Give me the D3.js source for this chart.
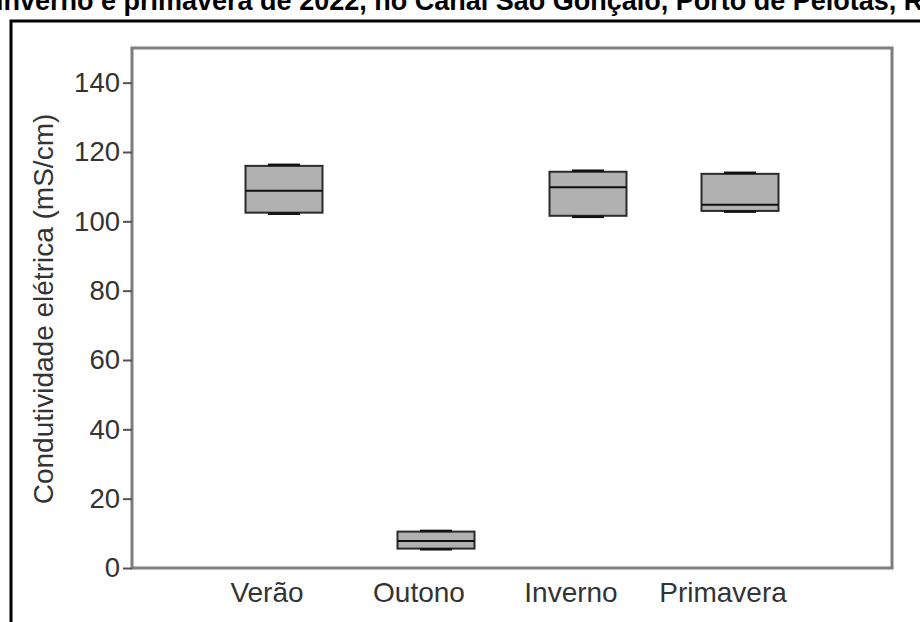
<!DOCTYPE html>
<html>
<head>
<meta charset="utf-8">
<script src="https://cdn.jsdelivr.net/npm/d3@7"></script>
<style>
  html, body { margin: 0; padding: 0; background: #fff; }
  svg { display: block; }
</style>
</head>
<body>
<svg id="chart" width="920" height="622"></svg>
<script>
// Seasonal electrical conductivity (mS/cm) — box summaries
const categories = ["Verão", "Outono", "Inverno", "Primavera"];
const whiskerMin = [102.2, 5.4, 101.3, 102.8];
const q1 = [102.5, 5.6, 101.6, 103.0];
const median = [108.8, 7.8, 109.8, 104.8];
const q3 = [116.0, 10.5, 114.3, 113.7];
const whiskerMax = [116.3, 10.7, 114.6, 114.0];
const yTicks = [0, 20, 40, 60, 80, 100, 120, 140];
const titleText = "inverno e primavera de 2022, no Canal São Gonçalo, Porto de Pelotas, RS";
const yTitle = "Condutividade elétrica (mS/cm)";

const svg = d3.select("#chart");
const font = "Arial, 'Liberation Sans', Helvetica, sans-serif";

const plot = { left: 132, right: 892, top: 48, bottom: 568 };

// Slot positions 1..4 on a 0..5 axis
const x = d3.scaleLinear().domain([0, categories.length + 1]).range([plot.left, plot.right]);
const y = d3.scaleLinear().domain([0, 150]).range([plot.bottom, plot.top]);
const boxW = 77;
const capW = 32;
const labelShift = -17;

// Caption line above the figure frame
svg.append("text")
  .attr("x", -4).attr("y", 10)
  .attr("font-family", font).attr("font-size", 27).attr("font-weight", "bold")
  .attr("fill", "#000")
  .text(titleText);

// Outer figure frame (top and left edges)
svg.append("path")
  .attr("d", `M11,622 V21 H920`)
  .attr("fill", "none").attr("stroke", "#000").attr("stroke-width", 3);

// Plot frame
svg.append("rect")
  .attr("x", plot.left).attr("y", plot.top)
  .attr("width", plot.right - plot.left).attr("height", plot.bottom - plot.top)
  .attr("fill", "none").attr("stroke", "#7d7d7d").attr("stroke-width", 3);

// Y axis
const yAxis = d3.axisLeft(y).tickValues(yTicks).tickSize(9).tickPadding(3).tickFormat(d3.format("d"));
const gy = svg.append("g").attr("transform", `translate(${plot.left},0)`).call(yAxis);
gy.select(".domain").remove();
gy.selectAll(".tick line").attr("stroke", "#555").attr("stroke-width", 2);
gy.selectAll(".tick text")
  .attr("font-family", font).attr("font-size", 27.5).attr("fill", "#333");

// Y axis title
svg.append("text")
  .attr("transform", `translate(53,309) rotate(-90)`)
  .attr("text-anchor", "middle")
  .attr("font-family", font).attr("font-size", 28).attr("fill", "#333")
  .text(yTitle);

// X category labels
svg.append("g").selectAll("text")
  .data(categories)
  .join("text")
  .attr("x", (d, i) => x(i + 1) + labelShift)
  .attr("y", 602)
  .attr("text-anchor", "middle")
  .attr("font-family", font).attr("font-size", 28).attr("fill", "#333")
  .text(d => d);

// Boxes
const boxes = svg.append("g").selectAll("g")
  .data(categories.map((c, i) => ({ c, i })))
  .join("g");

boxes.append("line")
  .attr("x1", d => x(d.i + 1)).attr("x2", d => x(d.i + 1))
  .attr("y1", d => y(whiskerMax[d.i])).attr("y2", d => y(q3[d.i]))
  .attr("stroke", "#222").attr("stroke-width", 1.5);
boxes.append("line")
  .attr("x1", d => x(d.i + 1)).attr("x2", d => x(d.i + 1))
  .attr("y1", d => y(whiskerMin[d.i])).attr("y2", d => y(q1[d.i]))
  .attr("stroke", "#222").attr("stroke-width", 1.5);

boxes.append("rect")
  .attr("x", d => x(d.i + 1) - boxW / 2)
  .attr("width", boxW)
  .attr("y", d => y(q3[d.i]))
  .attr("height", d => y(q1[d.i]) - y(q3[d.i]))
  .attr("fill", "#b1b1b1").attr("stroke", "#2b2b2b").attr("stroke-width", 2);

boxes.append("line")
  .attr("x1", d => x(d.i + 1) - boxW / 2).attr("x2", d => x(d.i + 1) + boxW / 2)
  .attr("y1", d => y(median[d.i])).attr("y2", d => y(median[d.i]))
  .attr("stroke", "#111").attr("stroke-width", 2);

// Whisker caps
[whiskerMax, whiskerMin].forEach(arr => {
  boxes.append("line")
    .attr("x1", d => x(d.i + 1) - capW / 2).attr("x2", d => x(d.i + 1) + capW / 2)
    .attr("y1", d => y(arr[d.i])).attr("y2", d => y(arr[d.i]))
    .attr("stroke", "#111").attr("stroke-width", 2.5);
});
</script>
</body>
</html>
